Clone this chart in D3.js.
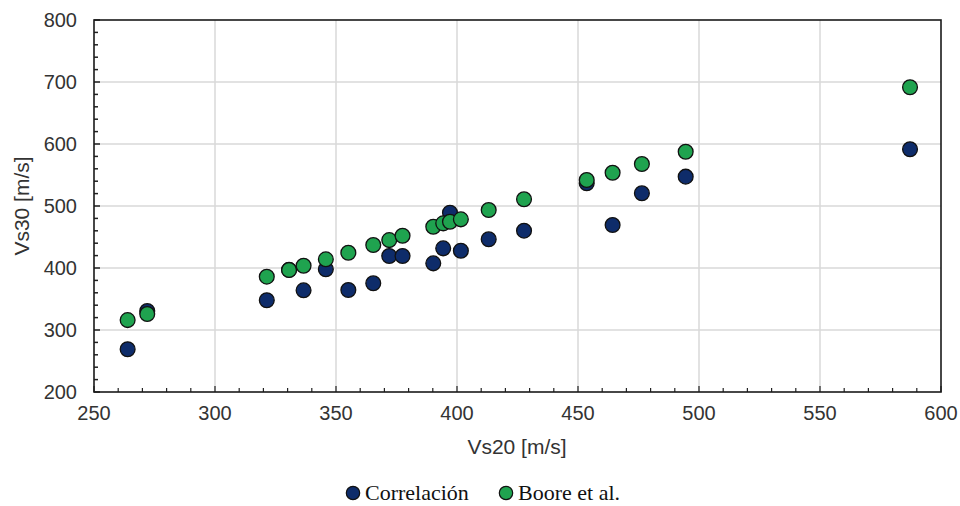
<!DOCTYPE html>
<html>
<head>
<meta charset="utf-8">
<script src="https://cdn.jsdelivr.net/npm/d3@7"></script>
<style>
html,body{margin:0;padding:0;background:#fff;}
svg{display:block;}
</style>
</head>
<body>
<svg id="chart" width="960" height="506"></svg>
<script>
const vs20 = [263.9, 272, 321.4, 330.6, 336.6, 345.8, 355.1, 365.4, 372, 377.5, 390.2, 394.3, 397.1, 401.6, 413.1, 427.7, 453.6, 464.3, 476.4, 494.5, 587.2];
const correlacion = [269, 330.6, 348, 397, 364, 397.9, 364.5, 375.3, 419.4, 419.4, 407.5, 431.7, 489.2, 427.9, 446.3, 460.2, 536.6, 469.4, 520.5, 547.3, 591.5];
const boore = [316, 325.8, 386, 396.8, 403.7, 414, 424.7, 437, 445, 452, 466.6, 472, 474.7, 478.5, 493.5, 510.8, 541.9, 553.7, 567.7, 587.6, 691.5];
const seriesNames = ["Correlación", "Boore et al."];
const seriesColors = ["#0e2c6a", "#1fa34f"];
const xTicks = [250, 300, 350, 400, 450, 500, 550, 600];
const yTicks = [200, 300, 400, 500, 600, 700, 800];

const svg = d3.select("#chart");
const L = 94, R = 941, T = 20, B = 392;
const x = d3.scaleLinear().domain([250, 600]).range([L, R]);
const y = d3.scaleLinear().domain([200, 800]).range([B, T]);
const sans = "Liberation Sans, Arial, sans-serif";

// grid
const g = svg.append("g");
g.selectAll(".gx").data(xTicks.slice(1, -1)).enter().append("line")
  .attr("x1", d => x(d)).attr("x2", d => x(d)).attr("y1", T).attr("y2", B)
  .attr("stroke", "#d9d9d9").attr("stroke-width", 1.5);
g.selectAll(".gy").data(yTicks.slice(1, -1)).enter().append("line")
  .attr("x1", L).attr("x2", R).attr("y1", d => y(d)).attr("y2", d => y(d))
  .attr("stroke", "#d9d9d9").attr("stroke-width", 1.5);

// minor ticks (inside)
const xMinor = d3.range(260, 600, 10).filter(v => v % 50 !== 0);
const yMinor = d3.range(220, 800, 20).filter(v => v % 100 !== 0);
g.selectAll(".mx").data(xMinor).enter().append("line")
  .attr("x1", d => x(d)).attr("x2", d => x(d)).attr("y1", B).attr("y2", B - 4)
  .attr("stroke", "#222").attr("stroke-width", 1.2);
g.selectAll(".Mx").data(xTicks).enter().append("line")
  .attr("x1", d => x(d)).attr("x2", d => x(d)).attr("y1", B).attr("y2", B - 6)
  .attr("stroke", "#222").attr("stroke-width", 1.2);
g.selectAll(".my").data(yMinor).enter().append("line")
  .attr("x1", L).attr("x2", L + 4).attr("y1", d => y(d)).attr("y2", d => y(d))
  .attr("stroke", "#222").attr("stroke-width", 1.5);
g.selectAll(".My").data(yTicks).enter().append("line")
  .attr("x1", L).attr("x2", L + 6).attr("y1", d => y(d)).attr("y2", d => y(d))
  .attr("stroke", "#222").attr("stroke-width", 1.5);

// frame
svg.append("rect").attr("x", L).attr("y", T).attr("width", R - L).attr("height", B - T)
  .attr("fill", "none").attr("stroke", "#1a1a1a").attr("stroke-width", 1.6);

// tick labels
svg.selectAll(".xl").data(xTicks).enter().append("text")
  .attr("x", d => x(d)).attr("y", B + 28).attr("text-anchor", "middle")
  .attr("font-family", sans).attr("font-size", 20).attr("fill", "#333")
  .text(d => d);
svg.selectAll(".yl").data(yTicks).enter().append("text")
  .attr("x", L - 17).attr("y", d => y(d) + 7).attr("text-anchor", "end")
  .attr("font-family", sans).attr("font-size", 20).attr("fill", "#333")
  .text(d => d);

// axis titles
svg.append("text").attr("x", 517).attr("y", 454).attr("text-anchor", "middle")
  .attr("font-family", sans).attr("font-size", 21).attr("fill", "#333")
  .text("Vs20 [m/s]");
svg.append("text").attr("transform", `translate(29,${(T + B) / 2}) rotate(-90)`)
  .attr("text-anchor", "middle")
  .attr("font-family", sans).attr("font-size", 21).attr("fill", "#333")
  .text("Vs30 [m/s]");

// points
const series = [correlacion, boore];
series.forEach((vals, i) => {
  svg.append("g").selectAll("circle").data(vs20.map((v, j) => [v, vals[j]])).enter().append("circle")
    .attr("cx", d => x(d[0])).attr("cy", d => y(d[1])).attr("r", 7.4)
    .attr("fill", seriesColors[i]).attr("stroke", "#111").attr("stroke-width", 1.3);
});

// legend
const legX = [353, 506];
seriesNames.forEach((n, i) => {
  svg.append("circle").attr("cx", legX[i]).attr("cy", 493).attr("r", 6.7)
    .attr("fill", seriesColors[i]).attr("stroke", "#111").attr("stroke-width", 1.2);
  svg.append("text").attr("x", legX[i] + 12).attr("y", 500)
    .attr("font-family", "Liberation Serif, Times New Roman, serif").attr("font-size", 22).attr("fill", "#111")
    .text(n);
});
</script>
</body>
</html>
